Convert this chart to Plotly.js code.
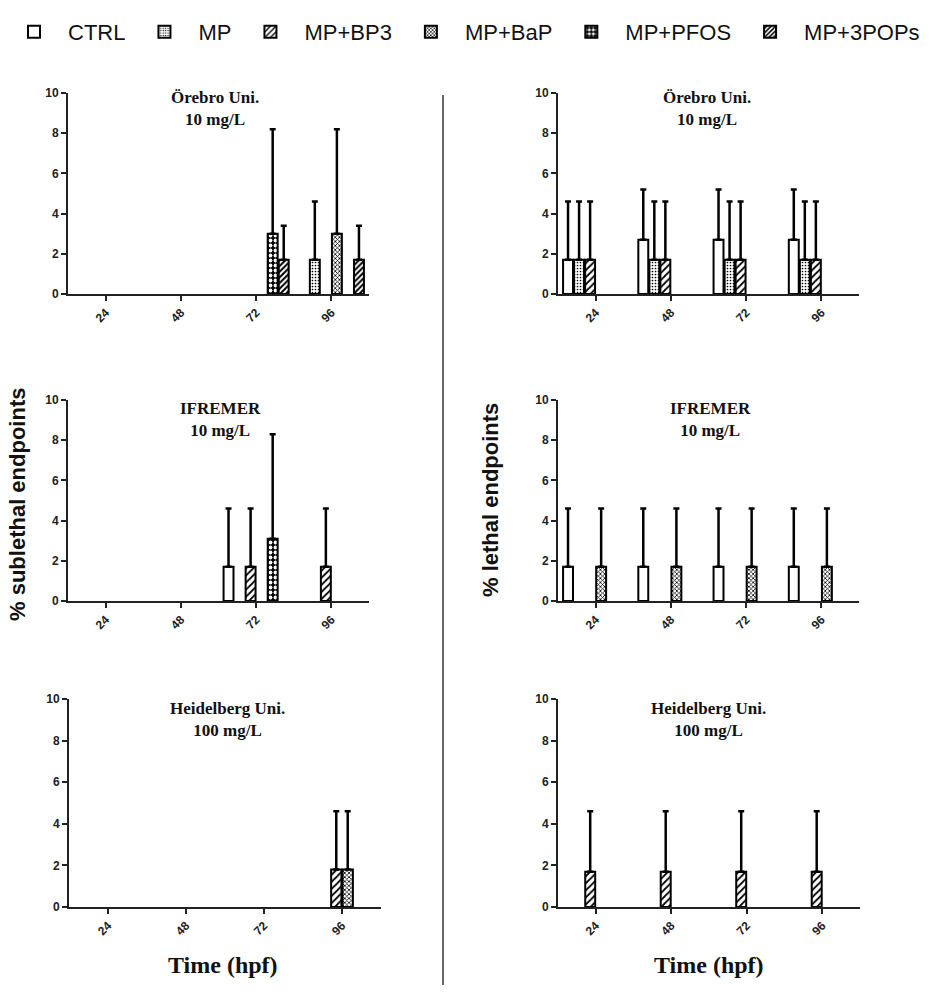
<!DOCTYPE html>
<html>
<head>
<meta charset="utf-8">
<script src="https://cdn.plot.ly/plotly-3.0.1.min.js"></script>
<style>
  body { margin: 0; background: #fff; }
  #chart { width: 947px; height: 1006px; }
</style>
</head>
<body>
<div id="chart"></div>
<script>
const W = 947;
const H = 1006;

const times = ['24', '48', '72', '96'];
const groups = ['CTRL', 'MP', 'MP+BP3', 'MP+BaP', 'MP+PFOS', 'MP+3POPs'];

// mean %, one row per group in the order of `groups`
const sublethalOrebro = [
  [null, null, null, null],
  [null, null, null, 1.7],
  [null, null, null, null],
  [null, null, null, 3.0],
  [null, null, 3.0, null],
  [null, null, 1.7, 1.7],
];
// SD (upper whisker only)
const sublethalOrebroSD = [
  [0, 0, 0, 0],
  [0, 0, 0, 2.9],
  [0, 0, 0, 0],
  [0, 0, 0, 5.2],
  [0, 0, 5.2, 0],
  [0, 0, 1.7, 1.7],
];

const lethalOrebro = [
  [1.7, 2.7, 2.7, 2.7],
  [1.7, 1.7, 1.7, 1.7],
  [1.7, 1.7, 1.7, 1.7],
  [null, null, null, null],
  [null, null, null, null],
  [null, null, null, null],
];
const lethalOrebroSD = [
  [2.9, 2.5, 2.5, 2.5],
  [2.9, 2.9, 2.9, 2.9],
  [2.9, 2.9, 2.9, 2.9],
  [0, 0, 0, 0],
  [0, 0, 0, 0],
  [0, 0, 0, 0],
];

const sublethalIfremer = [
  [null, null, 1.7, null],
  [null, null, null, null],
  [null, null, 1.7, 1.7],
  [null, null, null, null],
  [null, null, 3.1, null],
  [null, null, null, null],
];
const sublethalIfremerSD = [
  [0, 0, 2.9, 0],
  [0, 0, 0, 0],
  [0, 0, 2.9, 2.9],
  [0, 0, 0, 0],
  [0, 0, 5.2, 0],
  [0, 0, 0, 0],
];

const lethalIfremer = [
  [1.7, 1.7, 1.7, 1.7],
  [null, null, null, null],
  [null, null, null, null],
  [1.7, 1.7, 1.7, 1.7],
  [null, null, null, null],
  [null, null, null, null],
];
const lethalIfremerSD = [
  [2.9, 2.9, 2.9, 2.9],
  [0, 0, 0, 0],
  [0, 0, 0, 0],
  [2.9, 2.9, 2.9, 2.9],
  [0, 0, 0, 0],
  [0, 0, 0, 0],
];

const sublethalHeidelberg = [
  [null, null, null, null],
  [null, null, null, null],
  [null, null, null, 1.8],
  [null, null, null, 1.8],
  [null, null, null, null],
  [null, null, null, null],
];
const sublethalHeidelbergSD = [
  [0, 0, 0, 0],
  [0, 0, 0, 0],
  [0, 0, 0, 2.8],
  [0, 0, 0, 2.8],
  [0, 0, 0, 0],
  [0, 0, 0, 0],
];

const lethalHeidelberg = [
  [null, null, null, null],
  [null, null, null, null],
  [1.7, 1.7, 1.7, 1.7],
  [null, null, null, null],
  [null, null, null, null],
  [null, null, null, null],
];
const lethalHeidelbergSD = [
  [0, 0, 0, 0],
  [0, 0, 0, 0],
  [2.9, 2.9, 2.9, 2.9],
  [0, 0, 0, 0],
  [0, 0, 0, 0],
  [0, 0, 0, 0],
];

// fill pattern per group
const PATTERNS = [
  { shape: '' },
  { shape: '.', fgcolor: 'black', bgcolor: 'white', size: 3, solidity: 0.25 },
  { shape: '/', fgcolor: 'black', bgcolor: 'white', size: 5, solidity: 0.35 },
  { shape: 'x', fgcolor: 'black', bgcolor: 'white', size: 3, solidity: 0.45 },
  { shape: '.', fgcolor: 'white', bgcolor: 'black', size: 5, solidity: 0.45 },
  { shape: '/', fgcolor: 'black', bgcolor: 'white', size: 4, solidity: 0.5 },
];

// pixel boxes of each panel [left, right], [top(10), bottom(0)]
const panels = [
  { mean: sublethalOrebro, sd: sublethalOrebroSD, px: [68, 369], py: [93, 294],
    title: 'Örebro Uni.<br>10 mg/L', tx: 215, ty: 86 },
  { mean: lethalOrebro, sd: lethalOrebroSD, px: [558, 859], py: [93, 294],
    title: 'Örebro Uni.<br>10 mg/L', tx: 707, ty: 86 },
  { mean: sublethalIfremer, sd: sublethalIfremerSD, px: [68, 369], py: [400, 601],
    title: 'IFREMER<br>10 mg/L', tx: 220, ty: 397 },
  { mean: lethalIfremer, sd: lethalIfremerSD, px: [558, 859], py: [400, 601],
    title: 'IFREMER<br>10 mg/L', tx: 710, ty: 397 },
  { mean: sublethalHeidelberg, sd: sublethalHeidelbergSD, px: [69, 381], py: [699, 907],
    title: 'Heidelberg Uni.<br>100 mg/L', tx: 227, ty: 697 },
  { mean: lethalHeidelberg, sd: lethalHeidelbergSD, px: [558, 860], py: [699, 907],
    title: 'Heidelberg Uni.<br>100 mg/L', tx: 708, ty: 697 },
];

const fx = (px) => px / W;
const fy = (py) => 1 - py / H;

const TICKFONT = { family: 'Liberation Sans, Arial', size: 12, color: '#222', weight: 'bold' };
const SERIF = 'Liberation Serif, Times New Roman';
const SANS = 'Liberation Sans, Arial';

const data = [];
const layout = {
  width: W,
  height: H,
  margin: { l: 0, r: 0, t: 0, b: 0 },
  paper_bgcolor: 'white',
  plot_bgcolor: 'white',
  barmode: 'group',
  bargap: 0.12,
  bargroupgap: 0.1,
  showlegend: true,
  legend: {
    orientation: 'h',
    x: 0.0,
    xanchor: 'left',
    y: fy(32),
    yanchor: 'middle',
    font: { family: SANS, size: 22, color: '#111' },
    itemwidth: 58,
    traceorder: 'normal',
  },
  annotations: [],
  shapes: [
    {
      type: 'line', xref: 'paper', yref: 'paper',
      x0: fx(443), x1: fx(443), y0: fy(95), y1: fy(985),
      line: { color: '#333', width: 1.5 },
    },
  ],
};

panels.forEach((p, k) => {
  const n = k === 0 ? '' : String(k + 1);
  groups.forEach((g, i) => {
    data.push({
      type: 'bar',
      name: g,
      legendgroup: g,
      showlegend: k === 0,
      x: times,
      y: p.mean[i],
      xaxis: 'x' + n,
      yaxis: 'y' + n,
      marker: {
        color: 'white',
        line: { color: 'black', width: 2 },
        pattern: PATTERNS[i],
      },
      error_y: {
        type: 'data',
        symmetric: false,
        array: p.sd[i],
        arrayminus: p.sd[i].map(() => 0),
        color: 'black',
        thickness: 2.5,
        width: 3,
      },
      hoverinfo: 'skip',
    });
  });

  layout['xaxis' + n] = {
    domain: [fx(p.px[0]), fx(p.px[1])],
    anchor: 'y' + n,
    type: 'category',
    range: [-0.5, 3.5],
    showline: true,
    linecolor: '#222',
    linewidth: 2,
    ticks: 'outside',
    ticklen: 5,
    tickwidth: 2,
    tickcolor: '#222',
    tickangle: -45,
    tickfont: TICKFONT,
    showgrid: false,
    zeroline: false,
    fixedrange: true,
  };
  layout['yaxis' + n] = {
    domain: [fy(p.py[1]), fy(p.py[0])],
    anchor: 'x' + n,
    range: [0, 10],
    dtick: 2,
    showline: true,
    linecolor: '#222',
    linewidth: 2,
    ticks: 'outside',
    ticklen: 5,
    tickwidth: 2,
    tickcolor: '#222',
    tickfont: TICKFONT,
    showgrid: false,
    zeroline: false,
    fixedrange: true,
  };

  layout.annotations.push({
    xref: 'paper', yref: 'paper',
    x: fx(p.tx), y: fy(p.ty),
    xanchor: 'center', yanchor: 'top',
    text: p.title,
    showarrow: false,
    font: { family: SERIF, size: 17, color: '#111', weight: 'bold' },
  });
});

// axis titles
layout.annotations.push(
  {
    xref: 'paper', yref: 'paper', x: fx(17), y: fy(505),
    text: '% sublethal endpoints', textangle: -90, showarrow: false,
    xanchor: 'center', yanchor: 'middle',
    font: { family: SANS, size: 22, color: '#111', weight: 'bold' },
  },
  {
    xref: 'paper', yref: 'paper', x: fx(490), y: fy(500),
    text: '% lethal endpoints', textangle: -90, showarrow: false,
    xanchor: 'center', yanchor: 'middle',
    font: { family: SANS, size: 22, color: '#111', weight: 'bold' },
  },
  {
    xref: 'paper', yref: 'paper', x: fx(223), y: fy(965),
    text: 'Time (hpf)', showarrow: false,
    xanchor: 'center', yanchor: 'middle',
    font: { family: SERIF, size: 24, color: '#111', weight: 'bold' },
  },
  {
    xref: 'paper', yref: 'paper', x: fx(709), y: fy(965),
    text: 'Time (hpf)', showarrow: false,
    xanchor: 'center', yanchor: 'middle',
    font: { family: SERIF, size: 24, color: '#111', weight: 'bold' },
  }
);

Plotly.newPlot('chart', data, layout, { displayModeBar: false, staticPlot: true });
</script>
</body>
</html>
